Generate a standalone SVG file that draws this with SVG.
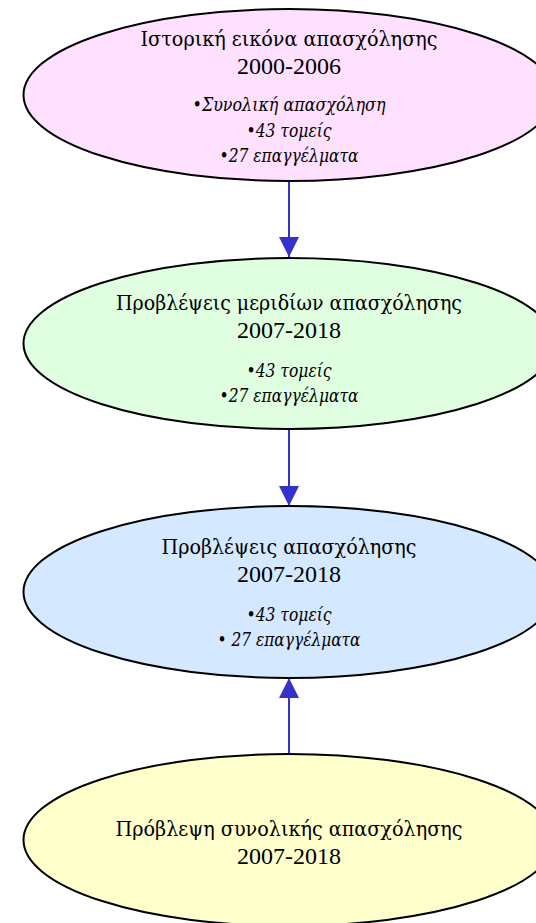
<svg xmlns="http://www.w3.org/2000/svg" width="536" height="923" viewBox="0 0 536 923">
<style>
.node{stroke:#000;stroke-width:2}
.t{font-family:"Liberation Serif","DejaVu Serif","Times New Roman",serif;font-size:24px;fill:#000;text-anchor:middle}
.g{font-family:"DejaVu Serif","Liberation Serif",serif;font-size:21px;fill:#000;text-anchor:middle}
.i{font-family:"Liberation Serif","DejaVu Serif",serif;font-size:20px;font-style:italic;fill:#000;text-anchor:middle}
.gi{font-family:"DejaVu Serif","Liberation Serif",serif;font-size:18px;font-style:italic;fill:#000;text-anchor:middle}
.edge{stroke:#3333CC;stroke-width:2;fill:none}
</style>
<defs>
<marker id="arr" markerUnits="userSpaceOnUse" markerWidth="20" markerHeight="20" refX="20" refY="10" orient="auto">
<path d="M0,0 L20,10 L0,20 Z" fill="#3333CC"/>
</marker>
</defs>
<rect width="536" height="923" fill="#fff"/>
<g id="connectors">
<line class="edge" x1="289" y1="181" x2="289" y2="257" marker-end="url(#arr)"/>
<line class="edge" x1="289" y1="429" x2="289" y2="506" marker-end="url(#arr)"/>
<line class="edge" x1="289" y1="754" x2="289" y2="678" marker-end="url(#arr)"/>
</g>
<g id="historic">
<ellipse class="node" cx="289" cy="95" rx="265.5" ry="86" fill="#FFE0FF"/>
<text class="g" x="289" y="45.7" textLength="297" lengthAdjust="spacingAndGlyphs">Ιστορική εικόνα απασχόλησης</text>
<text class="t" x="289" y="74.3">2000-2006</text>
<text class="gi" x="289" y="111" textLength="193" lengthAdjust="spacingAndGlyphs">•Συνολική απασχόληση</text>
<text class="gi" x="289" y="136.7" textLength="85" lengthAdjust="spacingAndGlyphs">•43 τομείς</text>
<text class="gi" x="289" y="161.7" textLength="139" lengthAdjust="spacingAndGlyphs">•27 επαγγέλματα</text>
</g>
<g id="shares">
<ellipse class="node" cx="289" cy="343.5" rx="265.5" ry="85.5" fill="#E0FFE0"/>
<text class="g" x="289" y="310" textLength="346" lengthAdjust="spacingAndGlyphs">Προβλέψεις μεριδίων απασχόλησης</text>
<text class="t" x="289" y="338">2007-2018</text>
<text class="gi" x="289" y="377" textLength="85" lengthAdjust="spacingAndGlyphs">•43 τομείς</text>
<text class="gi" x="289" y="402" textLength="139" lengthAdjust="spacingAndGlyphs">•27 επαγγέλματα</text>
</g>
<g id="forecasts">
<ellipse class="node" cx="289" cy="592" rx="265.5" ry="86" fill="#D4E8FF"/>
<text class="g" x="289" y="554" textLength="255" lengthAdjust="spacingAndGlyphs">Προβλέψεις απασχόλησης</text>
<text class="t" x="289" y="582">2007-2018</text>
<text class="gi" x="289" y="621" textLength="85" lengthAdjust="spacingAndGlyphs">•43 τομείς</text>
<text class="gi" x="289" y="646" textLength="143" lengthAdjust="spacingAndGlyphs">• 27 επαγγέλματα</text>
</g>
<g id="total">
<ellipse class="node" cx="289" cy="840" rx="265.5" ry="86" fill="#FFFFCC"/>
<text class="g" x="289" y="836" textLength="347" lengthAdjust="spacingAndGlyphs">Πρόβλεψη συνολικής απασχόλησης</text>
<text class="t" x="289" y="864">2007-2018</text>
</g>
</svg>
